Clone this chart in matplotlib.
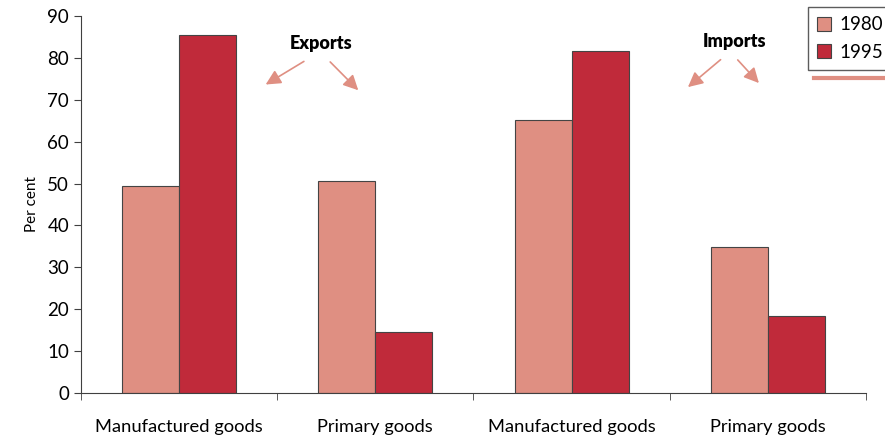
import matplotlib.pyplot as plt
import numpy as np
from matplotlib.lines import Line2D

categories = ["Manufactured goods", "Primary goods", "Manufactured goods", "Primary goods"]
share_1980 = [49.3, 50.7, 65.2, 34.8]
share_1995 = [85.5, 14.5, 81.6, 18.4]

light = "#df8f82"
dark = "#c02a3a"

plt.rcParams['font.family'] = ['Lato', 'DejaVu Sans']

fig = plt.figure(figsize=(8.85, 4.37), dpi=100)
ax = fig.add_axes([0.0915, 0.1007, 0.887, 0.8627])

x = np.arange(len(categories))
w = 0.29
ax.bar(x - w / 2, share_1980, w, color=light, edgecolor="#444444", linewidth=0.8, label="1980")
ax.bar(x + w / 2, share_1995, w, color=dark, edgecolor="#444444", linewidth=0.8, label="1995")

ax.set_xlim(-0.5, len(categories) - 0.5)
ax.set_ylim(0, 90)
ax.set_yticks(range(0, 91, 10))
ax.set_xticks(x)
ax.set_xticklabels(categories, fontsize=13.2)
ax.set_xticks(np.arange(len(categories) + 1) - 0.5, minor=True)
ax.tick_params(axis="x", which="major", length=0, pad=19)
ax.tick_params(axis="x", which="minor", length=5, direction="out", color="#404040")
ax.tick_params(axis="y", length=5, direction="out", labelsize=13.5, color="#404040")
ax.set_ylabel("Per cent", fontsize=11, labelpad=6)

for side in ("top", "right"):
    ax.spines[side].set_visible(False)
for side in ("left", "bottom"):
    ax.spines[side].set_color("#404040")

# Exports / Imports callouts with arrows pointing at each pair
arrow = dict(arrowstyle="-|>,head_length=0.9,head_width=0.45", color=light, lw=1.2)
ax.text(0.724, 83.5, "Exports", ha="center", va="center", fontsize=13, fontweight="heavy")
ax.annotate("", xy=(0.429, 73.3), xytext=(0.648, 79.5), arrowprops=arrow)
ax.annotate("", xy=(0.923, 71.8), xytext=(0.760, 79.5), arrowprops=arrow)
ax.text(2.832, 83.8, "Imports", ha="center", va="center", fontsize=13, fontweight="heavy")
ax.annotate("", xy=(2.582, 72.6), xytext=(2.770, 80.0), arrowprops=arrow)
ax.annotate("", xy=(2.964, 73.5), xytext=(2.837, 80.0), arrowprops=arrow)

leg = fig.legend(loc="upper left", bbox_to_anchor=(0.913, 0.984), borderaxespad=0,
                 fontsize=13.5, frameon=True, fancybox=False, handlelength=0.75,
                 handleheight=0.75, handletextpad=0.4, borderpad=0.5, labelspacing=0.55)
leg.get_frame().set_edgecolor("#333333")
leg.get_frame().set_linewidth(1.0)
fig.add_artist(Line2D([0.920, 1.0], [0.822, 0.822], color=light, lw=3,
                      transform=fig.transFigure))

fig.savefig("out.png", dpi=100)
